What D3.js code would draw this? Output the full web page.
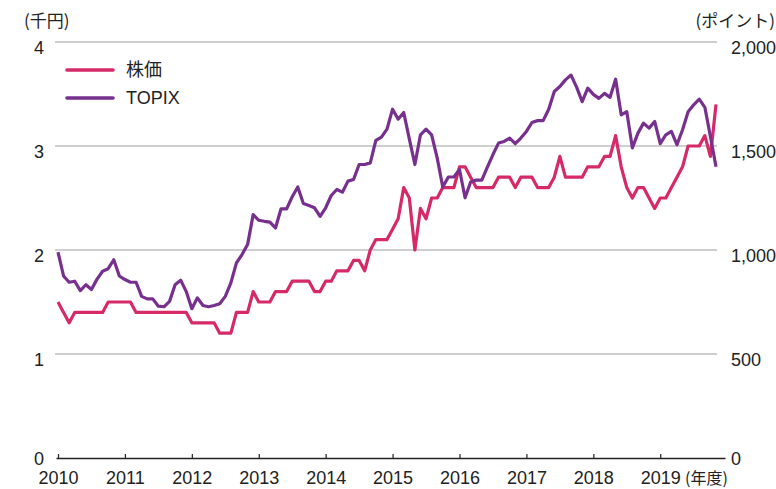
<!DOCTYPE html>
<html>
<head>
<meta charset="utf-8">
<script src="https://cdn.jsdelivr.net/npm/d3@7"></script>
<style>
  body { margin: 0; background: #fff; }
  text { font-family: "Liberation Sans", Arial, sans-serif; fill: #222; }
  .jp { font-family: "Noto Sans CJK JP", sans-serif; }
</style>
</head>
<body>
<div id="chart"></div>
<script>
// 年度ラベル（4月始まり、月次データ）
const years = ["2010", "2011", "2012", "2013", "2014", "2015", "2016", "2017", "2018", "2019"];
const leftTicks = [0, 1, 2, 3, 4];
const rightTicks = [0, 500, 1000, 1500, 2000];

// 株価（千円）
const stockPrice = [
  1.5, 1.4, 1.3, 1.4, 1.4, 1.4, 1.4, 1.4, 1.4, 1.5,
  1.5, 1.5, 1.5, 1.5, 1.4, 1.4, 1.4, 1.4, 1.4, 1.4,
  1.4, 1.4, 1.4, 1.4, 1.3, 1.3, 1.3, 1.3, 1.3, 1.2,
  1.2, 1.2, 1.4, 1.4, 1.4, 1.6, 1.5, 1.5, 1.5, 1.6,
  1.6, 1.6, 1.7, 1.7, 1.7, 1.7, 1.6, 1.6, 1.7, 1.7,
  1.8, 1.8, 1.8, 1.9, 1.9, 1.8, 2.0, 2.1, 2.1, 2.1,
  2.2, 2.3, 2.6, 2.5, 2.0, 2.4, 2.3, 2.5, 2.5, 2.6,
  2.6, 2.6, 2.8, 2.8, 2.7, 2.6, 2.6, 2.6, 2.6, 2.7,
  2.7, 2.7, 2.6, 2.7, 2.7, 2.7, 2.6, 2.6, 2.6, 2.7,
  2.9, 2.7, 2.7, 2.7, 2.7, 2.8, 2.8, 2.8, 2.9, 2.9,
  3.1, 2.8, 2.6, 2.5, 2.6, 2.6, 2.5, 2.4, 2.5, 2.5,
  2.6, 2.7, 2.8, 3.0, 3.0, 3.0, 3.1, 2.9, 3.4
];

// TOPIX（ポイント）
const topix = [
  990, 875, 845, 850, 805, 833, 810, 860, 898, 910,
  953, 875, 858, 845, 845, 777, 765, 765, 730, 727,
  753, 833, 855, 800, 718, 770, 733, 727, 733, 742,
  777, 842, 938, 978, 1026, 1170, 1143, 1138, 1134, 1106,
  1198, 1198, 1256, 1303, 1224, 1214, 1203, 1162, 1203, 1262,
  1291, 1278, 1331, 1339, 1411, 1411, 1419, 1527, 1543, 1581,
  1677, 1629, 1661, 1534, 1411, 1554, 1581, 1554, 1443, 1303,
  1351, 1351, 1387, 1251, 1327, 1336, 1336, 1398, 1459, 1514,
  1522, 1538, 1511, 1538, 1570, 1613, 1622, 1622, 1677, 1762,
  1786, 1818, 1841, 1783, 1713, 1778, 1748, 1729, 1753, 1734,
  1821, 1650, 1665, 1491, 1562, 1610, 1586, 1618, 1511, 1554,
  1570, 1506, 1578, 1665, 1698, 1725, 1686, 1546, 1400
];

const seriesNames = ["株価", "TOPIX"];
const colors = ["#d62a68", "#77308e"];

const W = 776, H = 489;
const svg = d3.select("#chart").append("svg")
  .attr("width", W).attr("height", H);

// スケール
const x = d3.scaleLinear().domain([0, stockPrice.length - 1]).range([58, 716]);
const yL = d3.scaleLinear().domain([0, 4]).range([458, 42]);
const yR = d3.scaleLinear().domain([0, 2000]).range([458, 42]);

// グリッド線
svg.append("g")
  .selectAll("line")
  .data(leftTicks.filter(d => d > 0))
  .enter().append("line")
  .attr("x1", 55).attr("x2", 717)
  .attr("y1", d => yL(d)).attr("y2", d => yL(d))
  .attr("stroke", "#a0a0a0").attr("stroke-width", 1.2);

// 左軸
const gL = svg.append("g")
  .attr("transform", "translate(44,0)")
  .call(d3.axisLeft(yL).tickValues(leftTicks).tickSize(0).tickPadding(0).tickFormat(d3.format("d")));
gL.select(".domain").remove();
gL.selectAll("text")
  .attr("dy", d => d === 0 ? "0.38em" : "0.62em")
  .style("font-size", "18px")
  .style("font-family", "Liberation Sans, Arial, sans-serif")
  .attr("fill", "#222");

// 右軸
const gR = svg.append("g")
  .attr("transform", "translate(731,0)")
  .call(d3.axisRight(yR).tickValues(rightTicks).tickSize(0).tickPadding(0).tickFormat(d3.format(",")));
gR.select(".domain").remove();
gR.selectAll("text")
  .attr("dy", d => d === 0 ? "0.38em" : "0.62em")
  .style("font-size", "18px")
  .style("font-family", "Liberation Sans, Arial, sans-serif")
  .attr("fill", "#222");

// X軸（年度）
const xAxisScale = x.copy().domain([x.invert(56), x.invert(725)]).range([56, 725]);
const gX = svg.append("g")
  .attr("transform", "translate(0,458)")
  .call(d3.axisBottom(xAxisScale)
    .tickValues(years.map((d, i) => i * 12))
    .tickSizeInner(-4).tickSizeOuter(0).tickPadding(13)
    .tickFormat((d, i) => years[i]));
gX.select(".domain").attr("stroke", "#222").attr("stroke-width", 1.6);
gX.selectAll(".tick line").attr("stroke", "#222").attr("stroke-width", 1.2);
gX.selectAll("text")
  .style("font-size", "18px")
  .style("font-family", "Liberation Sans, Arial, sans-serif")
  .attr("fill", "#222");

// 単位ラベル
svg.append("text").attr("class", "jp")
  .attr("x", 24).attr("y", 27)
  .style("font-size", "17px")
  .text("(千円)");
svg.append("text").attr("class", "jp")
  .attr("x", 775).attr("y", 27)
  .attr("text-anchor", "end")
  .style("font-size", "17px")
  .text("(ポイント)");
svg.append("text").attr("class", "jp")
  .attr("x", 685).attr("y", 484)
  .style("font-size", "16px")
  .text("(年度)");

// 折れ線
const line = yScale => d3.line()
  .x((d, i) => x(i))
  .y(d => yScale(d));

svg.append("path")
  .datum(stockPrice)
  .attr("fill", "none")
  .attr("stroke", colors[0])
  .attr("stroke-width", 3.2)
  .attr("stroke-linejoin", "round")
  .attr("d", line(yL));

svg.append("path")
  .datum(topix)
  .attr("fill", "none")
  .attr("stroke", colors[1])
  .attr("stroke-width", 3.2)
  .attr("stroke-linejoin", "round")
  .attr("d", line(yR));

// 凡例
const legend = svg.append("g")
  .selectAll("g")
  .data(seriesNames)
  .enter().append("g")
  .attr("transform", (d, i) => `translate(0,${70 + i * 28})`);

legend.append("line")
  .attr("x1", 67).attr("x2", 113)
  .attr("stroke", (d, i) => colors[i])
  .attr("stroke-width", 3.6)
  .attr("stroke-linecap", "round");

legend.append("text")
  .attr("x", 126)
  .attr("dy", "0.36em")
  .attr("class", (d, i) => i === 0 ? "jp" : null)
  .style("font-size", "18px")
  .text(d => d);
</script>
</body>
</html>
